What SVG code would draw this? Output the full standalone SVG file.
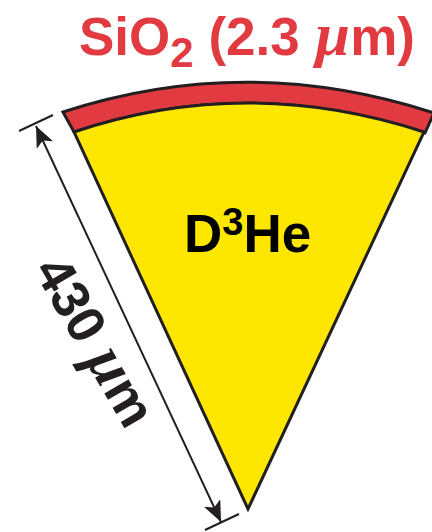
<svg xmlns="http://www.w3.org/2000/svg" width="432" height="532" viewBox="0 0 432 532">
<defs><style>
.t{font-family:"Liberation Sans",Arial,sans-serif;font-weight:700}
.m{font-family:"Liberation Serif",serif;font-style:italic;font-weight:700}
.o{stroke:#231f20;stroke-width:3;stroke-linejoin:miter}
.l{stroke:#231f20;stroke-width:2;fill:none}
</style>
<marker id="a" markerWidth="22" markerHeight="20" refX="21" refY="9" orient="auto-start-reverse" markerUnits="userSpaceOnUse"><path d="M0 0L21 9L0 18L5 9z" fill="#231f20"/></marker>
</defs>
<g id="shell"><path class="o" d="M63 112Q247 52 434 113L425 133Q247 74 74 132Z" fill="#e13b41"/></g>
<g id="fuel"><path class="o" d="M74 132Q247 74 424 132L248 509Z" fill="#fde700"/></g>
<g id="connectors">
<path class="l" d="M36 126L221 522" marker-start="url(#a)" marker-end="url(#a)"/>
<path class="l" d="M19 131L53 115M205 530L239 514"/>
</g>
<g id="labels">
<text class="t" x="79" y="55" font-size="53" fill="#e13b41">SiO<tspan font-size="42" dy="12">2</tspan><tspan dy="-12"> (2.3 </tspan><tspan class="m" font-size="62">µ</tspan>m)</text>
<text class="t" x="184" y="252" font-size="53" fill="#000">D<tspan font-size="38" dy="-17">3</tspan><tspan dy="17">He</tspan></text>
<text class="t" transform="translate(33 270) rotate(60)" font-size="53" fill="#231f20">430 <tspan class="m" font-size="62">µ</tspan>m</text>
</g>
</svg>
